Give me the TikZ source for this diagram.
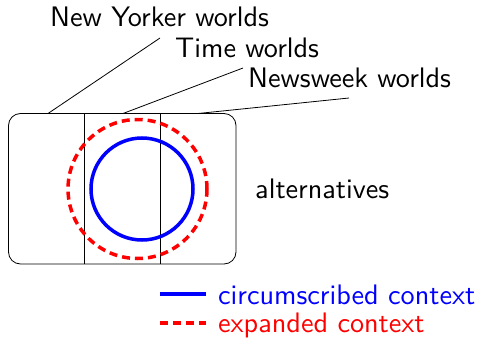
\documentclass[tikz,border=0pt]{standalone}
\newcommand{\bigsf}[1]{\scalebox{2.82}{\fontsize{10}{12}\selectfont\sffamily #1}}
\begin{document}
\begin{tikzpicture}[x=1pt,y=-1pt,
  lbl/.style={inner sep=0pt,anchor=base west},
  thin line/.style={draw=black,line width=0.8pt},
  blueline/.style={draw=blue,line width=3.5pt},
  redline/.style={draw=red,line width=3.5pt,dash pattern=on 8pt off 5pt}]
\useasboundingbox (0,0) rectangle (484,337);
% box
\draw[thin line,rounded corners=12pt] (8.5,113.5) rectangle (236,264);
\coordinate (v1t) at (84.5,113.5); \coordinate (v1b) at (84.5,264);
\coordinate (v2t) at (160.3,113.5); \coordinate (v2b) at (160.3,264);
\draw[thin line] (v1t) -- (v1b);
\draw[thin line] (v2t) -- (v2b);
% circles
\node[circle,redline,minimum size=139pt,inner sep=0pt] (exp) at (137.5,189) {};
\node[circle,blueline,minimum size=102pt,inner sep=0pt] (circ) at (142,189) {};
% labels
\node[lbl] (ny) at (50,27) {\bigsf{New Yorker worlds}};
\node[lbl] (tw) at (175,57) {\bigsf{Time worlds}};
\node[lbl] (nw) at (248,87) {\bigsf{Newsweek worlds}};
\node[lbl] (alt) at (255,198) {\bigsf{alternatives}};
\coordinate (ny0) at (48,113.5); \coordinate (ny1) at (160,38);
\coordinate (tw0) at (123,113.5); \coordinate (tw1) at (243,68);
\coordinate (nw0) at (198,113.5); \coordinate (nw1) at (349,98);
\draw[thin line] (ny0) -- (ny1);
\draw[thin line] (tw0) -- (tw1);
\draw[thin line] (nw0) -- (nw1);
% legend
\coordinate (b0) at (160,294); \coordinate (b1) at (206,294);
\coordinate (r0) at (160,323); \coordinate (r1) at (206,323);
\draw[blueline] (b0) -- (b1);
\draw[redline] (r0) -- (r1);
\node[lbl,text=blue] (lc) at (218,304) {\bigsf{circumscribed context}};
\node[lbl,text=red] (le) at (218,332) {\bigsf{expanded context}};
\end{tikzpicture}
\end{document}
